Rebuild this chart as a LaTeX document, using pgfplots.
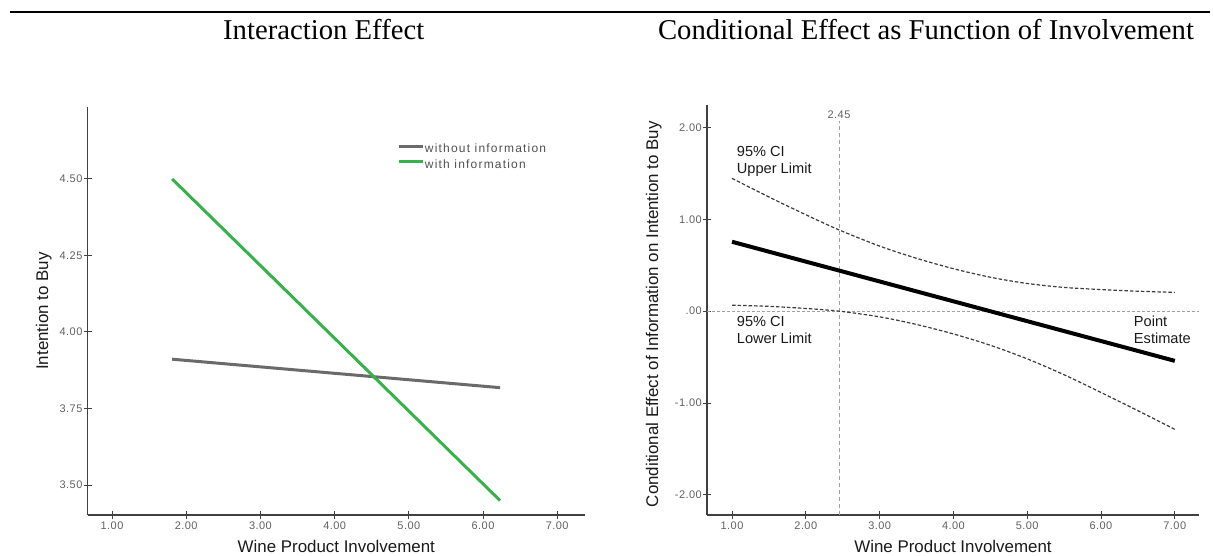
\documentclass[border=0pt]{standalone}
\usepackage{fontspec}
\setmainfont{Liberation Serif}
\newfontfamily\arial{Liberation Sans}
\newfontfamily\arialsp[LetterSpace=10]{Liberation Sans}
\newfontfamily\arialtk[LetterSpace=4]{Liberation Sans}
\usepackage{pgfplots}
\pgfplotsset{compat=1.18}

\definecolor{axisgray}{HTML}{404040}
\definecolor{tickgray}{HTML}{606060}
\definecolor{labelblack}{HTML}{1A1A1A}
\definecolor{legendgray}{HTML}{505050}
\definecolor{lowgray}{HTML}{6A6A6A}
\definecolor{infogreen}{HTML}{36B24A}
\definecolor{cigray}{HTML}{3C3C3C}
\definecolor{refgray}{HTML}{A0A0A0}

\pgfplotsset{
  spss/.style={
    scale only axis,
    axis x line=bottom, axis y line=left,
    axis line style={-, draw=axisgray, line width=1.1pt},
    tick align=center, major tick length=8pt,
    tick style={draw=axisgray, line width=1pt},
    xtick={1,2,3,4,5,6,7},
    xticklabels={1.00,2.00,3.00,4.00,5.00,6.00,7.00},
    ticklabel style={font=\arialtk\fontsize{11}{11}\selectfont, text=tickgray, inner sep=0pt},
    xticklabel style={anchor=north, yshift=-3pt},
    yticklabel style={anchor=east, xshift=-1pt},
    label style={font=\arial\fontsize{16.9}{18}\selectfont, text=labelblack},
    xlabel style={at={(axis description cs:0.5,0)}, anchor=base, yshift=-38pt},
  },
}

\begin{document}
\begin{tikzpicture}
\useasboundingbox (0,0) rectangle (1213pt,556pt);
\draw[line width=2.3pt] (10pt,543.8pt) -- (1210pt,543.8pt);
\node[anchor=base, inner sep=0pt, font=\fontsize{28.7}{30}\selectfont] at (323.7pt,516.7pt) {Interaction Effect};
\node[anchor=base, inner sep=0pt, font=\fontsize{28.7}{30}\selectfont] at (926pt,516.7pt) {Conditional Effect as Function of Involvement};

% left: interaction effect
\begin{axis}[spss,
  at={(87.6pt,41pt)}, anchor=south west,
  width=497.4pt, height=408pt,
  xmin=0.671, xmax=7.374, ymin=3.402, ymax=4.735,
  ytick={3.5,3.75,4,4.25,4.5},
  yticklabels={3.50,3.75,4.00,4.25,4.50},
  xlabel={Wine Product Involvement},
  ylabel={Intention to Buy},
  ylabel style={at={(axis description cs:-0.0796,0.5)}, anchor=base},
  legend style={draw=none, fill=none, at={(0.624,0.910)}, anchor=north west,
    inner sep=0pt, outer sep=0pt,
    font=\arialsp\fontsize{12}{12}\selectfont, text=legendgray,
    row sep=3.4pt, cells={anchor=base west},
    nodes={inner sep=0pt, text height=9pt, text depth=3pt},
    /tikz/every even column/.append style={column sep=3pt}},
  legend image code/.code={\draw[#1] (0pt,6.5pt) -- (24pt,6.5pt);},
]
\addplot[lowgray, line width=3pt] coordinates {(1.81,3.911) (6.23,3.818)};
\addlegendentry{without information}
\addplot[infogreen, line width=3pt] coordinates {(1.81,4.500) (6.23,3.449)};
\addlegendentry{with information}
\end{axis}

% right: conditional effect
\begin{axis}[spss,
  at={(707pt,41pt)}, anchor=south west,
  width=492pt, height=410pt,
  xmin=0.661, xmax=7.328, ymin=-2.218, ymax=2.243,
  ytick={-2,-1,0,1,2},
  yticklabels={-2.00,-1.00,.00,1.00,2.00},
  xlabel={Wine Product Involvement},
  ylabel={Conditional Effect of Information on Intention to Buy},
  ylabel style={at={(axis description cs:-0.0996,0.49)}, anchor=base},
]
\addplot[refgray, line width=0.8pt, dash pattern=on 3pt off 2pt] coordinates {(0.661,0) (7.328,0)};
\addplot[refgray, line width=0.8pt, dash pattern=on 4pt off 3pt] coordinates {(2.45,-2.218) (2.45,2.07)};
\addplot[cigray, line width=1.2pt, dash pattern=on 3.5pt off 2pt, smooth] coordinates {
  (1,1.445) (1.5,1.242) (2,1.049) (2.45,0.884) (3,0.708) (3.5,0.575) (4,0.462)
  (4.5,0.369) (5,0.301) (5.5,0.258) (6,0.235) (6.5,0.217) (7,0.204)};
\addplot[cigray, line width=1.2pt, dash pattern=on 3.5pt off 2pt, smooth] coordinates {
  (1,0.065) (1.5,0.052) (2,0.029) (2.45,0.0) (3,-0.062) (3.5,-0.145) (4,-0.248)
  (4.5,-0.371) (5,-0.519) (5.5,-0.692) (6,-0.885) (6.5,-1.083) (7,-1.286)};
\addplot[black, line width=4pt] coordinates {(1,0.755) (7,-0.541)};
\node[anchor=base, inner sep=0pt, font=\arialtk\fontsize{11}{11}\selectfont, text=tickgray] at (axis cs:2.45,2.095) {2.45};
\node[anchor=base west, inner sep=0pt, font=\arial\fontsize{14.6}{15}\selectfont, text=labelblack] at (axis cs:1.064,1.688) {95\% CI};
\node[anchor=base west, inner sep=0pt, font=\arial\fontsize{14.6}{15}\selectfont, text=labelblack] at (axis cs:1.064,1.499) {Upper Limit};
\node[anchor=base west, inner sep=0pt, font=\arial\fontsize{14.6}{15}\selectfont, text=labelblack] at (axis cs:1.064,-0.162) {95\% CI};
\node[anchor=base west, inner sep=0pt, font=\arial\fontsize{14.6}{15}\selectfont, text=labelblack] at (axis cs:1.064,-0.350) {Lower Limit};
\node[anchor=base west, inner sep=0pt, font=\arial\fontsize{14.6}{15}\selectfont, text=labelblack] at (axis cs:6.444,-0.162) {Point};
\node[anchor=base west, inner sep=0pt, font=\arial\fontsize{14.6}{15}\selectfont, text=labelblack] at (axis cs:6.444,-0.350) {Estimate};
\end{axis}
\end{tikzpicture}
\end{document}
